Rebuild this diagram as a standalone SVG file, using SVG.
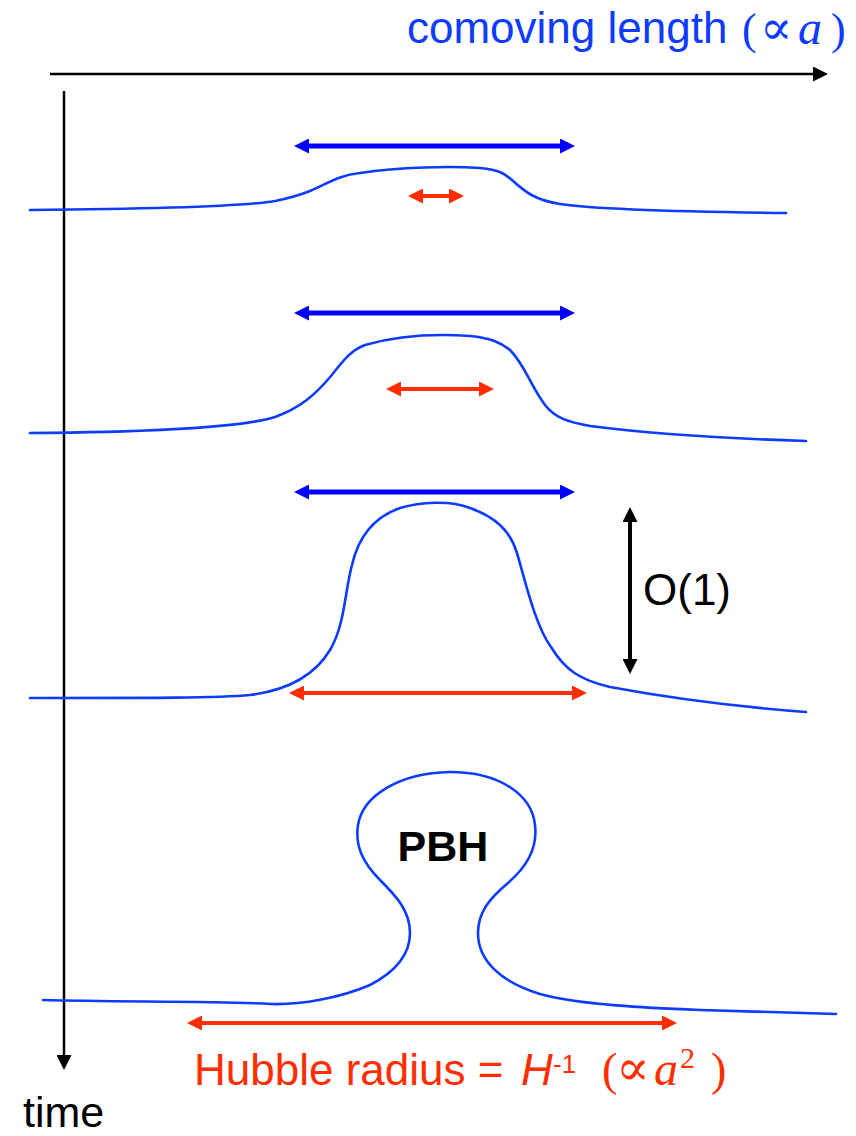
<svg xmlns="http://www.w3.org/2000/svg" width="856" height="1136" viewBox="0 0 856 1136">
<style>
.curve{fill:none;stroke:#0d3bff;stroke-width:2.6;stroke-linecap:round;stroke-linejoin:round}
.ba{stroke:#0000ff;stroke-width:5;fill:none;marker-start:url(#mb);marker-end:url(#mb)}
.ra{stroke:#ff2d00;stroke-width:4;fill:none;marker-start:url(#mr);marker-end:url(#mr)}
.ka{stroke:#000;stroke-width:4;fill:none;marker-start:url(#mk);marker-end:url(#mk)}
.axis{stroke:#000;stroke-width:2.5;fill:none;marker-end:url(#mk)}
.sans{font-family:"Liberation Sans",Arial,sans-serif}
.math{font-family:"Liberation Serif","DejaVu Serif",serif}
</style>
<defs>
<marker id="mb" markerUnits="userSpaceOnUse" viewBox="0 0 15 15" markerWidth="15" markerHeight="15" refX="5" refY="7.5" orient="auto-start-reverse"><path d="M0,0L15,7.5L0,15z" fill="#0000ff"/></marker>
<marker id="mr" markerUnits="userSpaceOnUse" viewBox="0 0 15 15" markerWidth="15" markerHeight="15" refX="5" refY="7.5" orient="auto-start-reverse"><path d="M0,0L15,7.5L0,15z" fill="#ff2d00"/></marker>
<marker id="mk" markerUnits="userSpaceOnUse" viewBox="0 0 15 15" markerWidth="15" markerHeight="15" refX="5" refY="7.5" orient="auto-start-reverse"><path d="M0,0L15,7.5L0,15z" fill="#000"/></marker>
</defs>
<rect width="856" height="1136" fill="#fff"/>

<g id="axes">
<line class="axis" x1="50" y1="74" x2="818" y2="74"/>
<line class="axis" x1="64" y1="91" x2="64" y2="1060"/>
<text class="sans" x="407" y="43" font-size="44" fill="#0d3bff">comoving length</text>
<text class="math" y="44" fill="#0d3bff" font-size="44"><tspan x="742">(</tspan><tspan x="760" font-size="48">∝</tspan><tspan x="798" font-style="italic" font-size="48">a</tspan><tspan x="831">)</tspan></text>
<text class="sans" x="23" y="1127" font-size="43" fill="#000">time</text>
</g>

<g id="stage1">
<path class="curve" d="M30,210 C150,209 240,207 275,201 C290,198 300,195 310,191 C330,182 340,175 360,173 C400,167 450,166 480,168 C500,170 505,174 512,180 C525,192 535,200 560,204 C600,210 700,212 786,213"/>
</g>

<g id="stage2">
<path class="curve" d="M30,433 C150,432 240,428 275,417 C300,408 315,395 331,376 C345,358 352,350 365,345 C400,335 440,334 470,336 C490,338 500,342 510,350 C525,365 530,385 545,405 C555,418 568,422 590,426 C660,435 740,439 806,441"/>
</g>

<g id="stage3">
<path class="curve" d="M30,698 C150,698 220,698 250,695 C290,690 315,675 330,650 C345,625 345,590 352,565 C360,530 380,515 400,508 C420,502 450,500 470,508 C495,517 510,530 517,553 C525,580 535,625 551,647 C565,670 580,680 610,687 C680,700 740,707 806,712"/>
<text class="sans" x="643" y="605" font-size="44" fill="#000">O(1)</text>
</g>

<g id="stage4">
<path class="curve" d="M43,1000 C120,1002 220,1001 271,1004 C300,1005 340,998 370,985 C395,972 410,955 410,933 C410,910 395,895 380,880 C362,862 355,845 358,825 C363,795 400,773 450,772 C500,772 532,795 535,825 C538,850 525,868 508,883 C490,898 478,912 478,933 C478,960 500,982 540,994 C580,1005 650,1008 700,1010 C760,1012 800,1013 836,1014"/>
<text class="sans" x="443" y="861" font-size="43" font-weight="bold" text-anchor="middle" fill="#000">PBH</text>
</g>

<g id="connectors">
<line class="ba" x1="304" y1="146" x2="565" y2="146"/>
<line class="ba" x1="304" y1="313" x2="565" y2="313"/>
<line class="ba" x1="304" y1="492" x2="565" y2="492"/>
<line class="ra" x1="418" y1="196" x2="454" y2="196"/>
<line class="ra" x1="396" y1="389" x2="484" y2="389"/>
<line class="ra" x1="299" y1="693" x2="577" y2="693"/>
<line class="ra" x1="197" y1="1023" x2="667" y2="1023"/>
<line class="ka" x1="630" y1="517" x2="630" y2="664"/>
</g>

<g id="hubble-label">
<text class="sans" x="194" y="1085" font-size="44" fill="#ff2d00">Hubble radius = </text>
<text class="sans" x="521" y="1085" font-size="44" font-style="italic" fill="#ff2d00">H</text>
<text class="sans" x="553" y="1073" font-size="26" fill="#ff2d00">-1</text>
<text class="math" y="1085" font-size="46" fill="#ff2d00"><tspan x="602">(</tspan><tspan x="616" font-size="50">∝</tspan><tspan x="654" font-style="italic" font-size="48">a</tspan><tspan x="680" y="1068" font-size="30">2</tspan><tspan x="711" y="1085">)</tspan></text>
</g>
</svg>
